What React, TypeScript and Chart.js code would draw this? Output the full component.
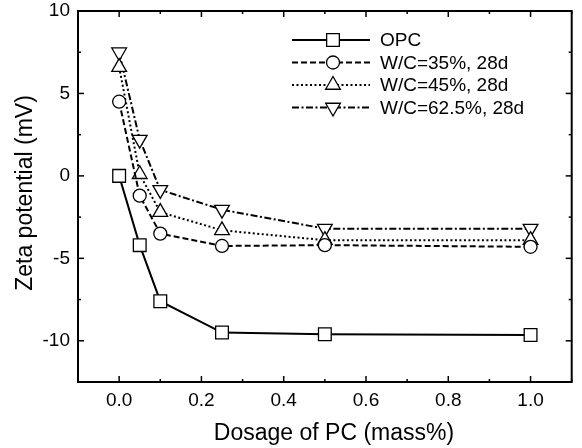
import React, { useEffect, useRef } from "react";
import { Chart, registerables } from "chart.js";

Chart.register(...registerables);

const dosage = [0, 0.05, 0.1, 0.25, 0.5, 1.0];
const opc = [0, -4.2, -7.6, -9.5, -9.6, -9.65];
const wc35 = [4.5, -1.2, -3.5, -4.25, -4.2, -4.3];
const wc45 = [6.6, 0.1, -2.2, -3.3, -3.9, -3.9];
const wc625 = [7.5, 2.2, -0.85, -2.05, -3.2, -3.2];
const seriesLabels = ["OPC", "W/C=35%, 28d", "W/C=45%, 28d", "W/C=62.5%, 28d"];
const xTicks = [0, 0.2, 0.4, 0.6, 0.8, 1.0];
const xMinor = [-0.1, 0.1, 0.3, 0.5, 0.7, 0.9, 1.1];
const yTicks = [-10, -5, 0, 5, 10];
const yMinor = [-12.5, -7.5, -2.5, 2.5, 7.5];
const xTitle = "Dosage of PC (mass%)";
const yTitle = "Zeta potential (mV)";

const FONT = "'Liberation Sans', Arial, sans-serif";

const styles = [
  { dash: [] as number[], point: "rect", radius: 9, rotation: 0 },
  { dash: [6, 3], point: "circle", radius: 6.5, rotation: 0 },
  { dash: [2, 2.5], point: "triangle", radius: 8.5, rotation: 0 },
  { dash: [7, 2.5, 2, 2.5], point: "triangle", radius: 8.5, rotation: 180 },
];

function drawMarker(ctx: CanvasRenderingContext2D, kind: string, x: number, y: number, r: number, rot: number) {
  ctx.beginPath();
  if (kind === "rect") {
    const s = r * Math.SQRT1_2;
    ctx.rect(x - s, y - s, 2 * s, 2 * s);
  } else if (kind === "circle") {
    ctx.arc(x, y, r, 0, Math.PI * 2);
  } else {
    let rad = (rot * Math.PI) / 180;
    for (let i = 0; i < 3; i++) {
      const px = x + Math.sin(rad) * r;
      const py = y - Math.cos(rad) * r;
      if (i === 0) ctx.moveTo(px, py);
      else ctx.lineTo(px, py);
      rad += (2 * Math.PI) / 3;
    }
    ctx.closePath();
  }
  ctx.fillStyle = "#fff";
  ctx.fill();
  ctx.stroke();
}

const framePlugin = {
  id: "frame",
  afterDraw(chart: any) {
    const ctx = chart.ctx as CanvasRenderingContext2D;
    const { left, right, top, bottom } = chart.chartArea;
    const xs = chart.scales.x;
    const ys = chart.scales.y;
    ctx.save();
    ctx.strokeStyle = "#000";
    ctx.lineWidth = 2;
    ctx.setLineDash([]);
    ctx.strokeRect(left, top, right - left, bottom - top);
    ctx.lineWidth = 1.5;
    const seg = (x1: number, y1: number, x2: number, y2: number) => {
      ctx.beginPath();
      ctx.moveTo(x1, y1);
      ctx.lineTo(x2, y2);
      ctx.stroke();
    };
    xTicks.forEach((v) => {
      const px = xs.getPixelForValue(v);
      seg(px, bottom, px, bottom - 6);
      seg(px, top, px, top + 6);
    });
    xMinor.forEach((v) => {
      const px = xs.getPixelForValue(v);
      seg(px, bottom, px, bottom - 3);
      seg(px, top, px, top + 3);
    });
    yTicks.forEach((v) => {
      const py = ys.getPixelForValue(v);
      seg(left, py, left + 6, py);
      seg(right, py, right - 6, py);
    });
    yMinor.forEach((v) => {
      const py = ys.getPixelForValue(v);
      seg(left, py, left + 3, py);
      seg(right, py, right - 3, py);
    });

    // axis titles
    ctx.fillStyle = "#000";
    ctx.font = `23px ${FONT}`;
    ctx.textAlign = "center";
    ctx.textBaseline = "middle";
    ctx.fillText(xTitle, 334, 434);
    ctx.save();
    ctx.translate(26, 193);
    ctx.rotate(-Math.PI / 2);
    ctx.fillText(yTitle, 0, 0);
    ctx.restore();

    // legend
    const lx0 = 292;
    const lx1 = 370;
    const mx = 333;
    const rows = [40, 62.5, 85, 107.5];
    ctx.font = `19px ${FONT}`;
    ctx.textBaseline = "middle";
    ctx.textAlign = "left";
    seriesLabels.forEach((lab, i) => {
      const st = styles[i];
      ctx.lineWidth = 2;
      ctx.setLineDash(st.dash);
      seg(lx0, rows[i], lx1, rows[i]);
      ctx.setLineDash([]);
      ctx.lineWidth = 1.3;
      drawMarker(ctx, st.point, mx, rows[i], st.radius, st.rotation);
      ctx.fillStyle = "#000";
      ctx.fillText(lab, 380, rows[i] + 1);
    });
    ctx.restore();
  },
};

export default function App() {
  const ref = useRef<HTMLCanvasElement>(null);
  useEffect(() => {
    document.body.style.margin = "0";
    const series = [opc, wc35, wc45, wc625];
    const chart = new Chart(ref.current!, {
      type: "line",
      data: {
        datasets: series.map((vals, i) => ({
          label: seriesLabels[i],
          data: dosage.map((x, j) => ({ x, y: vals[j] })),
          borderColor: "#000",
          borderWidth: 2,
          borderDash: styles[i].dash,
          pointStyle: styles[i].point as any,
          pointRadius: styles[i].radius,
          pointRotation: styles[i].rotation,
          pointBackgroundColor: "#fff",
          pointBorderColor: "#000",
          pointBorderWidth: 1.3,
          fill: false,
          tension: 0,
        })),
      },
      options: {
        responsive: false,
        animation: false,
        events: [],
        layout: { padding: { left: 0, right: 5, top: 11, bottom: 0 } },
        plugins: { legend: { display: false }, tooltip: { enabled: false } },
        scales: {
          x: {
            type: "linear",
            min: -0.1,
            max: 1.1,
            afterBuildTicks: (s: any) => {
              s.ticks = xTicks.map((value) => ({ value }));
            },
            afterFit: (s: any) => {
              s.height = 66;
              s.paddingLeft = 0;
              s.paddingRight = 0;
            },
            grid: { display: false, drawTicks: false },
            border: { display: false },
            ticks: {
              color: "#000",
              font: { family: FONT, size: 19 },
              padding: 7,
              maxRotation: 0,
              autoSkip: false,
              callback: (v: any) => Number(v).toFixed(1),
            },
          },
          y: {
            type: "linear",
            min: -12.5,
            max: 10,
            afterBuildTicks: (s: any) => {
              s.ticks = yTicks.map((value) => ({ value }));
            },
            afterFit: (s: any) => {
              s.width = 78;
              s.paddingTop = 0;
              s.paddingBottom = 0;
            },
            grid: { display: false, drawTicks: false },
            border: { display: false },
            ticks: {
              color: "#000",
              font: { family: FONT, size: 19 },
              padding: 8,
              autoSkip: false,
              callback: (v: any) => String(v),
            },
          },
        },
      },
      plugins: [framePlugin],
    });
    return () => chart.destroy();
  }, []);
  return (
    <div style={{ width: 582, height: 448, background: "#fff" }}>
      <canvas ref={ref} width={582} height={448} />
    </div>
  );
}
